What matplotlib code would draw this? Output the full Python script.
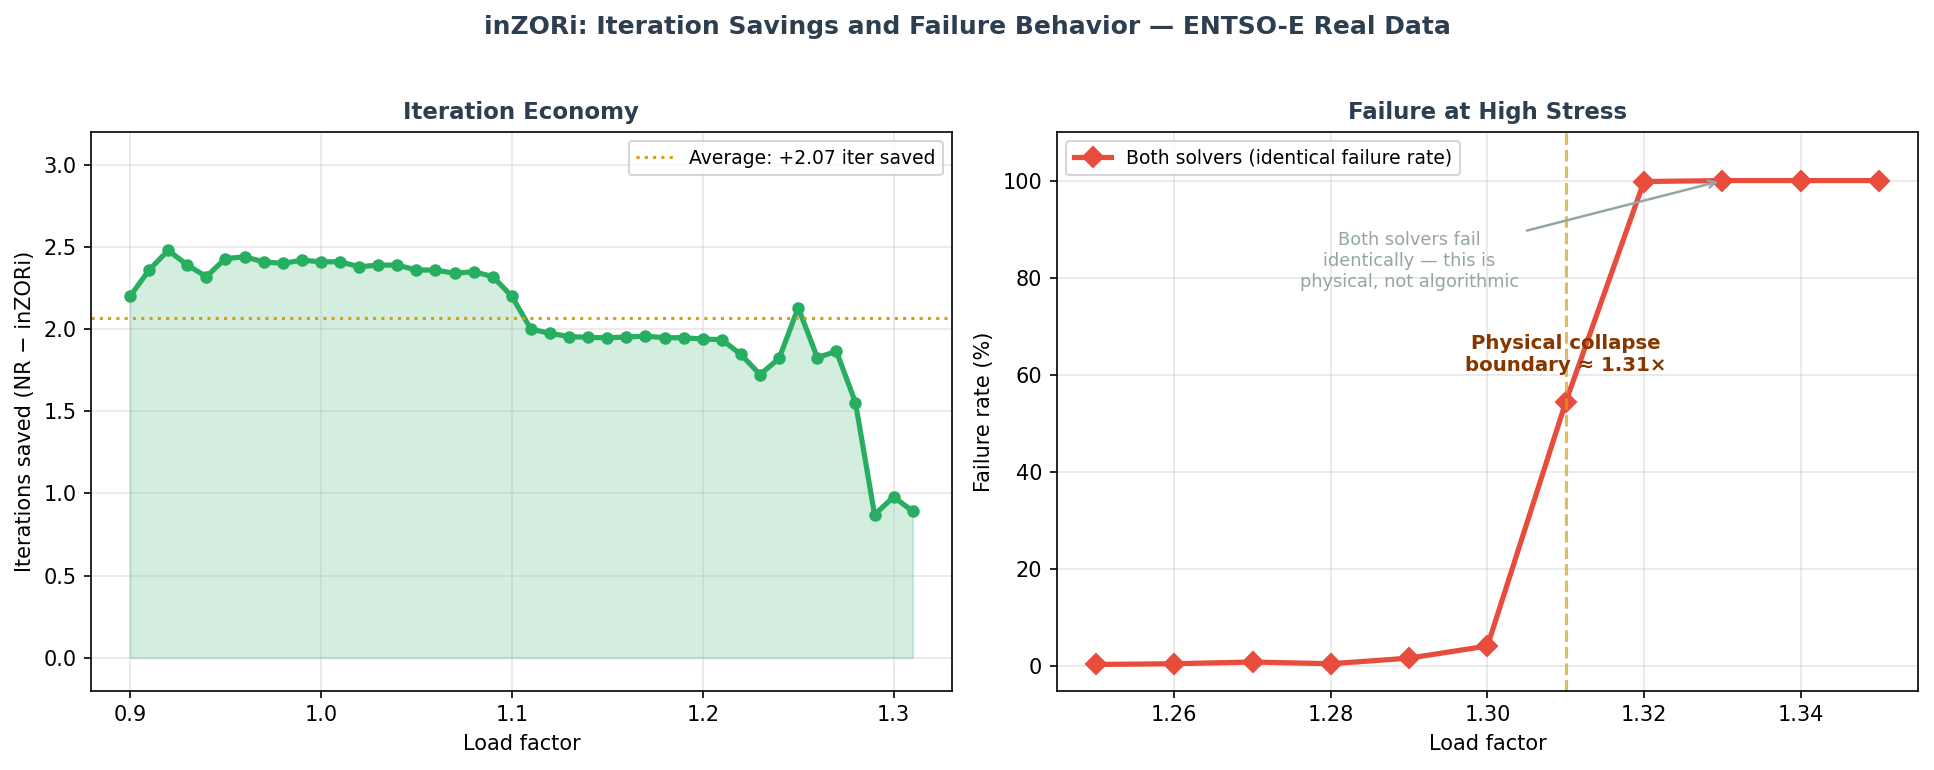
import numpy as np
import matplotlib.pyplot as plt

# Left panel: iteration savings per load factor
load_iter = np.round(np.arange(0.90, 1.315, 0.01), 2)
iter_saved = [2.20, 2.36, 2.48, 2.39, 2.32, 2.43, 2.44, 2.41, 2.40, 2.42,
              2.41, 2.41, 2.38, 2.39, 2.39, 2.36, 2.36, 2.34, 2.35, 2.32,
              2.20, 2.00, 1.975, 1.955, 1.95, 1.948, 1.952, 1.958, 1.948, 1.948,
              1.94, 1.936, 1.846, 1.724, 1.822, 2.131, 1.827, 1.865, 1.553, 0.871,
              0.98, 0.891]

# Right panel: failure rate at high stress
load_fail = [1.25, 1.26, 1.27, 1.28, 1.29, 1.30, 1.31, 1.32, 1.33, 1.34, 1.35]
fail_rate = [0.4, 0.55, 0.9, 0.55, 1.7, 4.2, 54.4, 99.8, 100.0, 100.0, 100.0]

collapse_x = 1.31

GREEN = "#27ae60"
RED = "#e74c3c"
GOLD = "#d4a017"
NAVY = "#2c3e50"
GREY = "#95a5a6"
BROWN = "#873600"

fig, (ax1, ax2) = plt.subplots(1, 2, figsize=(1934 / 150, 770 / 150), dpi=150)
fig.subplots_adjust(left=0.047, right=0.9917, bottom=0.103, top=0.8286, wspace=0.122)

fig.suptitle("inZORi: Iteration Savings and Failure Behavior — ENTSO-E Real Data",
             fontsize=12, fontweight="bold", color=NAVY, y=0.965, va="center")

# Iteration economy
avg = np.mean(iter_saved)
ax1.fill_between(load_iter, 0, iter_saved, color=GREEN, alpha=0.2)
ax1.plot(load_iter, iter_saved, "o-", color=GREEN, lw=2.5, ms=5)
ax1.axhline(avg, color=GOLD, ls=":", lw=1.5, label=f"Average: {avg:+.2f} iter saved")
ax1.set_ylim(-0.2, 3.2)
ax1.set_xticks([0.9, 1.0, 1.1, 1.2, 1.3])
ax1.set_xlabel("Load factor", fontsize=10)
ax1.set_ylabel("Iterations saved (NR − inZORi)", fontsize=10)
ax1.set_title("Iteration Economy", fontsize=11, fontweight="bold", color=NAVY)
ax1.grid(True, alpha=0.3)
ax1.legend(loc="upper right", fontsize=9)

# Failure at high stress
ax2.plot(load_fail, fail_rate, "D-", color=RED, lw=2.5, ms=7,
         label="Both solvers (identical failure rate)")
ax2.axvline(collapse_x, color=GOLD, ls="--", lw=1.5, alpha=0.7)
ax2.text(collapse_x, 60, "Physical collapse\nboundary ≈ 1.31×", ha="center", va="bottom",
         fontsize=9.5, fontweight="bold", color=BROWN)
ax2.annotate("Both solvers fail\nidentically — this is\nphysical, not algorithmic",
             xy=(1.33, 100), xytext=(1.29, 83.5), ha="center", va="center",
             fontsize=8.5, color=GREY,
             arrowprops=dict(arrowstyle="->", color=GREY, lw=1.2))
ax2.set_ylim(-5, 110)
ax2.set_xticks([1.26, 1.28, 1.30, 1.32, 1.34])
ax2.set_xlabel("Load factor", fontsize=10)
ax2.set_ylabel("Failure rate (%)", fontsize=10)
ax2.set_title("Failure at High Stress", fontsize=11, fontweight="bold", color=NAVY)
ax2.grid(True, alpha=0.3)
ax2.legend(loc="upper left", fontsize=9)

fig.savefig("out.png", dpi=150)
plt.close(fig)
